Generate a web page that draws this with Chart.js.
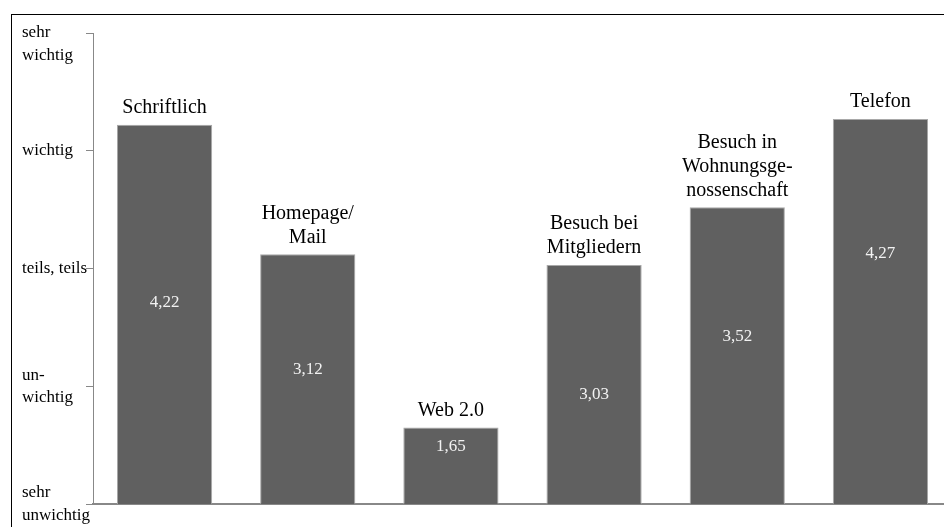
<!DOCTYPE html>
<html>
<head>
<meta charset="utf-8">
<script src="https://cdn.jsdelivr.net/npm/chart.js@4/dist/chart.umd.min.js"></script>
<style>
  html, body { margin: 0; padding: 0; background: #fff; overflow: hidden; }
  #wrap { position: absolute; left: 0; top: 0; width: 952px; height: 527px; }
  #frame { position: absolute; left: 11px; top: 14px; width: 960px; height: 600px;
           border-left: 1px solid #000; border-top: 1px solid #000; pointer-events: none; }
</style>
</head>
<body>
<div id="wrap"><canvas id="grafica"></canvas></div>
<div id="frame"></div>
<script>
// Kategorien (mehrzeilig, wie im Original)
const kategorien = [
    ['Schriftlich'],
    ['Homepage/', 'Mail'],
    ['Web 2.0'],
    ['Besuch bei', 'Mitgliedern'],
    ['Besuch in', 'Wohnungsge-', 'nossenschaft'],
    ['Telefon']
];
const mittelwerte = [4.22, 3.12, 1.65, 3.03, 3.52, 4.27];
const wertTexte = ['4,22', '3,12', '1,65', '3,03', '3,52', '4,27'];
// Skala 1..5
const skalaWerte = [1, 2, 3, 4, 5];
const skalaLabels = {
    1: ['sehr', 'unwichtig'],
    2: ['un-', 'wichtig'],
    3: ['teils, teils'],
    4: ['wichtig'],
    5: ['', 'sehr', 'wichtig'] // leere Zeile schiebt die Beschriftung unter den Rahmen
};
// Höhe der Wertbeschriftung im Balken (in Skaleneinheiten)
const wertPosition = [2.71, 2.14, 1.49, 1.93, 2.42, 3.13];

const serif = '"Liberation Serif", "Times New Roman", serif';

const beschriftungen = {
    id: 'beschriftungen',
    afterDatasetsDraw(chart) {
        const ctx = chart.ctx;
        const meta = chart.getDatasetMeta(0);
        const y = chart.scales.y;
        ctx.save();
        ctx.textAlign = 'center';
        ctx.textBaseline = 'middle';
        meta.data.forEach((bar, i) => {
            // Kategorie über dem Balken
            ctx.fillStyle = '#000';
            ctx.font = '20px ' + serif;
            const zeilen = kategorien[i];
            const lh = 24;
            zeilen.forEach((z, k) => {
                const yy = bar.y - 17 - (zeilen.length - 1 - k) * lh;
                ctx.fillText(z, bar.x, yy);
            });
            // Wert im Balken
            ctx.fillStyle = '#f2f2f2';
            ctx.font = '17px ' + serif;
            ctx.fillText(wertTexte[i], bar.x, y.getPixelForValue(wertPosition[i]));
        });
        ctx.restore();
    }
};

const ctx = document.getElementById('grafica').getContext('2d');
new Chart(ctx, {
    type: 'bar',
    data: {
        labels: kategorien.map(k => k.join(' ')),
        datasets: [{
            data: mittelwerte,
            backgroundColor: '#606060',
            borderColor: '#a8a8a8',
            borderWidth: 1,
            borderSkipped: 'bottom',
            barPercentage: 0.665,
            categoryPercentage: 1
        }]
    },
    options: {
        responsive: true,
        maintainAspectRatio: false,
        animation: false,
        layout: { padding: { left: 22, top: 33, right: 0, bottom: 23 } },
        plugins: {
            legend: { display: false },
            tooltip: { enabled: false }
        },
        scales: {
            x: {
                ticks: { display: false },
                grid: { display: false },
                border: { color: '#888', width: 2 },
                afterFit: s => { s.height = 0; }
            },
            y: {
                min: 1,
                max: 5,
                afterFit: s => {
                    s.width = 71;
                    s.paddingTop = 0;
                    s.paddingBottom = 0;
                },
                afterBuildTicks: s => { s.ticks = skalaWerte.map(v => ({ value: v })); },
                ticks: {
                    crossAlign: 'far',
                    color: '#000',
                    font: { family: serif, size: 17, lineHeight: 1.3 },
                    callback: v => skalaLabels[v] || ''
                },
                grid: { drawOnChartArea: false, tickLength: 7, color: '#888' },
                border: { color: '#888', width: 1 }
            }
        }
    },
    plugins: [beschriftungen]
});
</script>
</body>
</html>
